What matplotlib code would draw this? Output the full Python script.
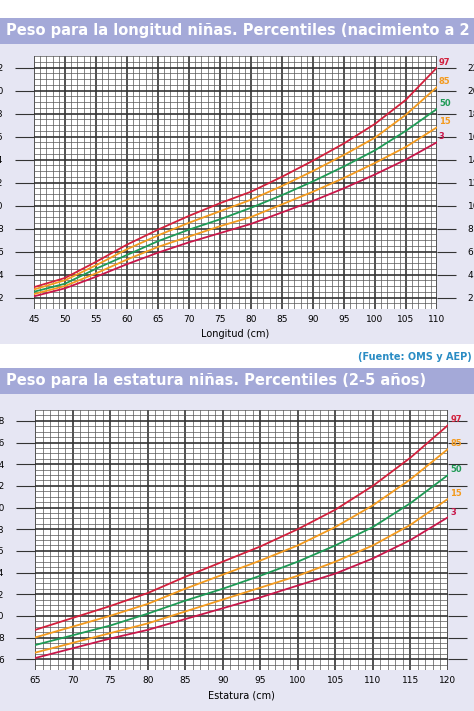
import matplotlib
matplotlib.use("Agg")
import matplotlib.pyplot as plt
from matplotlib.patches import Rectangle
import numpy as np

plt.rcParams['font.family'] = ['Liberation Sans Narrow', 'DejaVu Sans']

# Chart 1: peso para la longitud (0-2 años)
len1 = [45, 50, 55, 60, 65, 70, 75, 80, 85, 90, 95, 100, 105, 110]
p3_1 = [2.1, 2.8, 3.8, 4.9, 5.9, 6.8, 7.6, 8.4, 9.4, 10.4, 11.5, 12.7, 14.0, 15.5]
p15_1 = [2.3, 3.0, 4.1, 5.3, 6.4, 7.3, 8.2, 9.0, 10.1, 11.2, 12.4, 13.7, 15.1, 16.8]
p50_1 = [2.5, 3.2, 4.5, 5.7, 6.9, 7.9, 8.8, 9.8, 10.9, 12.1, 13.4, 14.8, 16.5, 18.4]
p85_1 = [2.7, 3.5, 4.8, 6.2, 7.4, 8.5, 9.5, 10.5, 11.7, 13.0, 14.4, 15.9, 17.9, 20.3]
p97_1 = [2.9, 3.7, 5.1, 6.6, 7.9, 9.1, 10.2, 11.2, 12.5, 13.9, 15.4, 17.1, 19.2, 22.0]

# Chart 2: peso para la estatura (2-5 años)
len2 = [65, 70, 75, 80, 85, 90, 95, 100, 105, 110, 115, 120]
p3_2 = [6.1, 7.0, 7.9, 8.7, 9.7, 10.7, 11.7, 12.8, 13.9, 15.3, 17.0, 19.1]
p15_2 = [6.6, 7.5, 8.4, 9.3, 10.4, 11.5, 12.6, 13.7, 15.0, 16.5, 18.4, 20.8]
p50_2 = [7.3, 8.2, 9.1, 10.2, 11.4, 12.5, 13.7, 15.0, 16.5, 18.2, 20.4, 23.0]
p85_2 = [8.0, 9.0, 10.0, 11.1, 12.5, 13.8, 15.1, 16.5, 18.2, 20.2, 22.6, 25.4]
p97_2 = [8.7, 9.8, 10.9, 12.1, 13.6, 15.0, 16.4, 18.0, 19.8, 22.0, 24.6, 27.6]

labels = ['97', '85', '50', '15', '3']
colors = ['#d2203c', '#f39a1e', '#1e9a55', '#f39a1e', '#c8174a']

W, H = 474, 711
fig = plt.figure(figsize=(W/100, H/100), dpi=100)
fig.patch.set_facecolor('white')

def rect(x, y, w, h, c):
    fig.patches.append(Rectangle((x/W, 1-(y+h)/H), w/W, h/H, transform=fig.transFigure,
                                 facecolor=c, edgecolor='none', zorder=-10))

# panels
rect(0, 18, 474, 26, '#a4a9d8')
rect(0, 44, 474, 300, '#e6e6f3')
rect(0, 368, 474, 26, '#a4a9d8')
rect(0, 394, 474, 317, '#e6e6f3')
fig.text(6/W, 1-31/H, 'Peso para la longitud niñas. Percentiles (nacimiento a 2 años)',
         color='white', fontsize=10.5, fontweight='bold', va='center')
fig.text(6/W, 1-381/H, 'Peso para la estatura niñas. Percentiles (2-5 años)',
         color='white', fontsize=10.5, fontweight='bold', va='center')
fig.text(472/W, 1-357/H, '(Fuente: OMS y AEP)', color='#2a8cc4', fontsize=7,
         fontweight='bold', va='center', ha='right')

def chart(box, xs, series, xlim, ylim, yticks, xlabel):
    l, t, r, b = box
    ax = fig.add_axes([l/W, 1-b/H, (r-l)/W, (b-t)/H])
    ax.set_facecolor('white')
    ax.set_xlim(*xlim); ax.set_ylim(*ylim)
    for x in range(xlim[0], xlim[1]+1):
        major = (x % 5 == 0)
        ax.axvline(x, color='#333333' if major else '#555555', lw=1.2 if major else 0.5, zorder=1)
    for y in np.arange(ylim[0], ylim[1]+0.01, 0.5):
        major = abs(y % 2) < 1e-9
        ax.axhline(y, color='#333333' if major else '#555555', lw=1.2 if major else 0.5, zorder=1)
    for s, lab, c in zip(series, labels, colors):
        ax.plot(xs, s, color=c, lw=1.3, zorder=3)
        ax.text(xs[-1]+0.3, s[-1]+0.25, lab, color=c, fontsize=6, fontweight='bold', zorder=4,
                clip_on=False)
    ax.set_xticks(range(xlim[0], xlim[1]+1, 5))
    ax.set_yticks(yticks)
    ax.tick_params(axis='both', labelsize=6.5, length=0, pad=4)
    ax.tick_params(axis='y', right=True, labelright=True, length=14, color='#333333',
                   direction='out', pad=8)
    for sp in ax.spines.values():
        sp.set_visible(False)
    ax.set_xlabel(xlabel, fontsize=7, labelpad=4)
    ax.set_ylabel('Peso (kg)', fontsize=7, labelpad=2)
    return ax

chart((34, 56, 437, 309), len1, [p97_1, p85_1, p50_1, p15_1, p3_1], (45, 110), (1, 23),
      range(2, 23, 2), 'Longitud (cm)')
chart((35, 410, 448, 670), len2, [p97_2, p85_2, p50_2, p15_2, p3_2], (65, 120), (5, 29),
      range(6, 29, 2), 'Estatura (cm)')

fig.savefig('out.png', dpi=100)
